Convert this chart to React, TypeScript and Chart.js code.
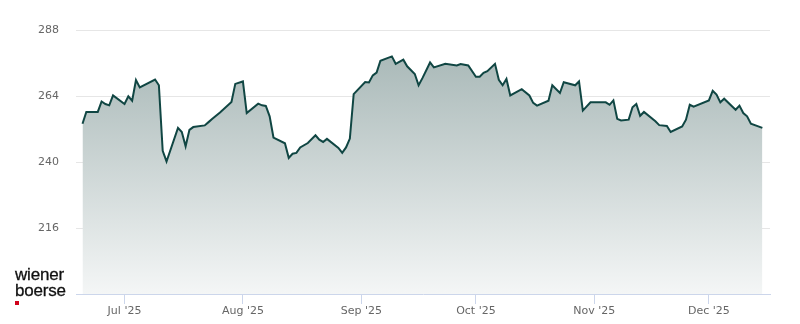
import React, { useEffect, useRef } from "react";
import { Chart, registerables } from "chart.js";

Chart.register(...registerables);

// Trading dates (vertices of the price line) and closing prices
const dates: string[] = [
  "2025-06-20", "2025-06-21", "2025-06-24", "2025-06-25", "2025-06-26", "2025-06-27", "2025-06-28",
  "2025-07-01", "2025-07-02", "2025-07-03", "2025-07-04", "2025-07-05", "2025-07-09", "2025-07-10",
  "2025-07-11", "2025-07-12", "2025-07-15", "2025-07-16", "2025-07-17", "2025-07-18", "2025-07-19",
  "2025-07-22", "2025-07-23", "2025-07-24", "2025-07-26", "2025-07-29", "2025-07-30", "2025-08-01",
  "2025-08-02", "2025-08-05", "2025-08-06", "2025-08-07", "2025-08-08", "2025-08-09", "2025-08-12",
  "2025-08-13", "2025-08-14", "2025-08-15", "2025-08-16", "2025-08-18", "2025-08-20", "2025-08-21",
  "2025-08-22", "2025-08-23", "2025-08-26", "2025-08-27", "2025-08-28", "2025-08-29", "2025-08-30",
  "2025-09-02", "2025-09-03", "2025-09-04", "2025-09-05", "2025-09-06", "2025-09-09", "2025-09-10",
  "2025-09-12", "2025-09-13", "2025-09-15", "2025-09-16", "2025-09-17", "2025-09-19", "2025-09-20",
  "2025-09-23", "2025-09-26", "2025-09-27", "2025-09-29", "2025-10-01", "2025-10-02", "2025-10-03",
  "2025-10-04", "2025-10-06", "2025-10-07", "2025-10-08", "2025-10-09", "2025-10-10", "2025-10-13",
  "2025-10-15", "2025-10-16", "2025-10-17", "2025-10-20", "2025-10-21", "2025-10-23", "2025-10-24",
  "2025-10-27", "2025-10-28", "2025-10-29", "2025-10-31", "2025-11-04", "2025-11-05", "2025-11-06",
  "2025-11-07", "2025-11-08", "2025-11-10", "2025-11-11", "2025-11-12", "2025-11-13", "2025-11-14",
  "2025-11-17", "2025-11-18", "2025-11-20", "2025-11-21", "2025-11-24", "2025-11-25", "2025-11-26",
  "2025-11-27", "2025-12-01", "2025-12-02", "2025-12-03", "2025-12-04", "2025-12-05", "2025-12-08",
  "2025-12-09", "2025-12-10", "2025-12-11", "2025-12-12", "2025-12-15",
];

const prices: number[] = [
  253.9, 258.2, 258.2, 262.0, 261.1, 260.6, 264.2,
  261.1, 263.9, 262.3, 269.8, 267.1, 270.0, 267.9,
  244.1, 240.2, 252.4, 250.9, 245.7, 251.7, 252.7,
  253.3, 254.5, 255.7, 258.0, 261.8, 268.4, 269.3,
  257.8, 261.2, 260.6, 260.4, 256.6, 248.9, 246.8,
  241.5, 243.0, 243.3, 245.3, 246.9, 249.7, 248.1,
  247.3, 248.4, 245.1, 243.3, 245.3, 248.5, 264.7,
  269.1, 268.9, 271.5, 272.5, 276.8, 278.4, 275.7,
  277.2, 274.8, 272.0, 267.9, 270.5, 276.2, 274.4,
  275.7, 275.1, 275.6, 275.1, 271.0, 271.0, 272.4,
  273.0, 275.7, 269.9, 267.9, 270.2, 264.2, 266.5,
  264.2, 261.5, 260.5, 262.3, 267.9, 265.1, 269.0,
  267.9, 269.3, 258.7, 261.7, 261.7, 260.8, 262.4,
  255.7, 255.1, 255.4, 259.9, 261.1, 256.8, 258.2,
  254.8, 253.4, 253.1, 250.9, 252.9, 255.4, 260.8,
  260.1, 262.4, 265.9, 264.5, 261.7, 263.0, 259.0,
  260.5, 257.8, 256.6, 253.9, 252.4,
];

const monthTickDates: string[] = ["2025-07-01", "2025-08-01", "2025-09-01", "2025-10-01", "2025-11-01", "2025-12-01"];
const monthTickLabels: string[] = ["Jul '25", "Aug '25", "Sep '25", "Oct '25", "Nov '25", "Dec '25"];
const yTickValues: number[] = [192, 216, 240, 264, 288];

const DAY_MS = 86400000;
const BASE = Date.UTC(2025, 6, 1);
const toDay = (s: string): number => {
  const [y, m, d] = s.split("-").map(Number);
  return (Date.UTC(y, m - 1, d) - BASE) / DAY_MS;
};

// axis range in days relative to 1 Jul 2025
const X_MIN = -12.7;
const X_MAX = 169.0;

export default function App() {
  const canvasRef = useRef<HTMLCanvasElement | null>(null);

  useEffect(() => {
    document.body.style.margin = "0";
    const canvas = canvasRef.current;
    if (!canvas) return;
    const points = dates.map((d, i) => ({ x: toDay(d), y: prices[i] }));
    const tickDays = monthTickDates.map(toDay);

    const chart = new Chart(canvas, {
      type: "line",
      data: {
        datasets: [
          {
            data: points,
            borderColor: "#104643",
            borderWidth: 2,
            pointRadius: 0,
            pointHoverRadius: 0,
            tension: 0,
            fill: "start",
            backgroundColor: (ctx: any) => {
              const { chart } = ctx;
              const area = chart.chartArea;
              if (!area) return "rgba(180,195,194,1)";
              const g = chart.ctx.createLinearGradient(0, area.top, 0, area.bottom);
              g.addColorStop(0, "rgb(162,179,178)");
              g.addColorStop(1, "rgb(244,246,246)");
              return g;
            },
          },
        ],
      },
      options: {
        animation: false,
        responsive: false,
        devicePixelRatio: 1,
        layout: { padding: { left: 0, right: 30, top: 30, bottom: 0 } },
        plugins: {
          legend: { display: false },
          tooltip: { enabled: false },
        },
        scales: {
          x: {
            type: "linear",
            min: X_MIN,
            max: X_MAX,
            afterBuildTicks: (scale: any) => {
              scale.ticks = tickDays.map((v) => ({ value: v }));
            },
            afterFit: (scale: any) => {
              scale.height = 30;
            },
            grid: {
              display: true,
              drawOnChartArea: false,
              drawTicks: true,
              tickLength: 10,
              color: "#ccd6eb",
            },
            border: { display: true, color: "#ccd6eb", width: 1 },
            ticks: {
              autoSkip: false,
              maxRotation: 0,
              padding: 1,
              color: "#666666",
              font: { family: "'DejaVu Sans', sans-serif", size: 11 },
              callback: (v: any) => {
                const idx = tickDays.indexOf(Number(v));
                return idx >= 0 ? monthTickLabels[idx] : "";
              },
            },
          },
          y: {
            type: "linear",
            min: yTickValues[0],
            max: yTickValues[yTickValues.length - 1],
            afterBuildTicks: (scale: any) => {
              scale.ticks = yTickValues.map((v) => ({ value: v }));
            },
            afterFit: (scale: any) => {
              scale.width = 76;
            },
            border: { display: false },
            grid: {
              drawTicks: false,
              color: (ctx: any) =>
                ctx.tick && ctx.tick.value === yTickValues[0] ? "rgba(0,0,0,0)" : "#e6e6e6",
              lineWidth: 1,
            },
            ticks: {
              padding: 17,
              color: "#666666",
              font: { family: "'DejaVu Sans', sans-serif", size: 11 },
              callback: (v: any) => (Number(v) === yTickValues[0] ? "" : String(v)),
            },
          },
        },
      },
    });
    return () => chart.destroy();
  }, []);

  return (
    <div style={{ position: "relative", width: 800, height: 324, background: "#ffffff", overflow: "hidden" }}>
      <canvas ref={canvasRef} width={800} height={324} style={{ display: "block", width: 800, height: 324 }} />
      <div
        style={{
          position: "absolute",
          left: 15,
          top: 267,
          fontFamily: "'Liberation Sans', Arial, sans-serif",
          fontSize: 17,
          lineHeight: "15.5px",
          color: "#111111",
          letterSpacing: "-0.2px",
          WebkitTextStroke: "0.3px #111111",
        }}
      >
        <div>wiener</div>
        <div>boerse</div>
      </div>
      <div style={{ position: "absolute", left: 15, top: 301, width: 4, height: 4, background: "#d0021b" }} />
    </div>
  );
}
